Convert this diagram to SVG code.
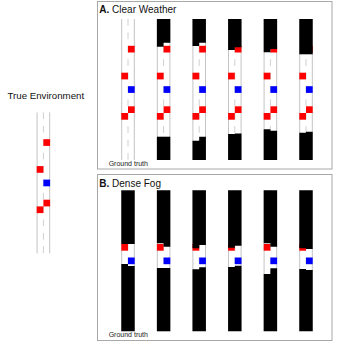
<svg xmlns="http://www.w3.org/2000/svg" xmlns:xlink="http://www.w3.org/1999/xlink" width="339" height="344" viewBox="0 0 339 344">
<style>
.edge{stroke:#c4c4c4;stroke-width:1;fill:none}
.mid{stroke:#d0d0d0;stroke-width:1;stroke-dasharray:6.7 6.7;fill:none}
.fog{fill:#000}
.car{fill:#ff0000}
.ego{fill:#0000ff}
.frame{fill:none;stroke:#a8a8a8;stroke-width:1}
.title{font-family:"Liberation Sans",Arial,sans-serif;font-size:10px;fill:#111}
.cap{font-family:"Liberation Sans",Arial,sans-serif;font-size:7px;fill:#222;text-anchor:middle}
</style>
<defs>
<g id="road">
<line class="edge" x1="0.4" y1="19" x2="0.4" y2="160"/>
<line class="edge" x1="13" y1="19" x2="13" y2="160"/>
<line class="mid" x1="6.7" y1="19" x2="6.7" y2="160"/>
</g>
<g id="cars">
<rect class="car" x="6.7" y="45.8" width="6.7" height="6.7"/>
<rect class="car" x="0" y="72.7" width="6.7" height="6.7"/>
<rect class="ego" x="6.7" y="86.2" width="6.7" height="6.7"/>
<rect class="car" x="6.7" y="106.3" width="6.7" height="6.7"/>
<rect class="car" x="0" y="113" width="6.7" height="6.7"/>
</g>
<g id="near">
<rect class="car" x="0" y="72.7" width="6.7" height="6.7"/>
<rect class="ego" x="6.7" y="86.2" width="6.7" height="6.7"/>
</g>
</defs>

<g id="true-environment">
<text class="title" x="45.8" y="99" style="font-size:9.7px;text-anchor:middle">True Environment</text>
<g transform="translate(36.7,93.4)">
<use xlink:href="#road"/>
<use xlink:href="#cars"/>
</g>
</g>

<g id="panel-a">
<rect class="frame" x="97.5" y="1.5" width="234.5" height="167.5"/>
<text class="title" x="99.3" y="13.3"><tspan font-weight="bold">A.</tspan> Clear Weather</text>
<g id="a1" transform="translate(121.3,0)">
<use xlink:href="#road"/><use xlink:href="#cars"/>
<text class="cap" x="7" y="166">Ground truth</text>
</g>
<g id="a2" transform="translate(156.9,0)">
<use xlink:href="#road"/><use xlink:href="#cars"/>
<polygon class="fog" points="0,19 13.4,19 13.4,42.7 6.7,42.7 6.7,46.7 0,46.7"/>
<polygon class="fog" points="0,136.7 13.4,136.7 13.4,160 0,160"/>
</g>
<g id="a3" transform="translate(192.5,0)">
<use xlink:href="#road"/><use xlink:href="#cars"/>
<polygon class="fog" points="0,19 13.4,19 13.4,42.7 6.7,42.7 6.7,46 0,46"/>
<polygon class="fog" points="0,140.7 6.7,140.7 6.7,136.7 13.4,136.7 13.4,160 0,160"/>
</g>
<g id="a4" transform="translate(228.1,0)">
<use xlink:href="#road"/><use xlink:href="#cars"/>
<polygon class="fog" points="0,19 13.4,19 13.4,47.3 6.7,47.3 6.7,50 0,50"/>
<polygon class="fog" points="0,134 6.7,134 6.7,133.4 13.4,133.4 13.4,160 0,160"/>
</g>
<g id="a5" transform="translate(263.7,0)">
<use xlink:href="#road"/><use xlink:href="#cars"/>
<polygon class="fog" points="0,19 13.4,19 13.4,49 6.7,49 6.7,52.3 0,52.3"/>
<polygon class="fog" points="0,129.3 6.7,129.3 6.7,130.7 13.4,130.7 13.4,160 0,160"/>
</g>
<g id="a6" transform="translate(299.3,0)">
<use xlink:href="#road"/><use xlink:href="#cars"/>
<polygon class="fog" points="0,19 13.4,19 13.4,54.3 0,54.3"/>
<polygon class="fog" points="0,132.7 6.7,132.7 6.7,131.7 13.4,131.7 13.4,160 0,160"/>
</g>
</g>

<g id="panel-b">
<rect class="frame" x="97.5" y="174.5" width="234.5" height="166"/>
<text class="title" x="99.3" y="186.5"><tspan font-weight="bold">B.</tspan> Dense Fog</text>
<g id="b1" transform="translate(121.3,171.3)">
<use xlink:href="#road"/><use xlink:href="#near"/>
<polygon class="fog" points="0,19 13.4,19 13.4,72.7 0,72.7"/>
<polygon class="fog" points="0,92.7 6.7,92.7 6.7,94.7 13.4,94.7 13.4,160 0,160"/>
<text class="cap" x="7" y="166">Ground truth</text>
</g>
<g id="b2" transform="translate(156.9,171.3)">
<use xlink:href="#road"/><use xlink:href="#near"/>
<polygon class="fog" points="0,19 13.4,19 13.4,75.4 6.7,75.4 6.7,72 0,72"/>
<polygon class="fog" points="0,96.7 13.4,96.7 13.4,160 0,160"/>
</g>
<g id="b3" transform="translate(192.5,171.3)">
<use xlink:href="#road"/><use xlink:href="#near"/>
<polygon class="fog" points="0,19 13.4,19 13.4,73.7 6.7,73.7 6.7,77 0,77"/>
<polygon class="fog" points="0,98 6.7,98 6.7,96 13.4,96 13.4,160 0,160"/>
</g>
<g id="b4" transform="translate(228.1,171.3)">
<use xlink:href="#road"/><use xlink:href="#near"/>
<polygon class="fog" points="0,19 13.4,19 13.4,74.4 6.7,74.4 6.7,76.4 0,76.4"/>
<polygon class="fog" points="0,95.7 6.7,95.7 6.7,94.4 13.4,94.4 13.4,160 0,160"/>
</g>
<g id="b5" transform="translate(263.7,171.3)">
<use xlink:href="#road"/><use xlink:href="#near"/>
<polygon class="fog" points="0,19 13.4,19 13.4,75.4 6.7,75.4 6.7,72 0,72"/>
<polygon class="fog" points="0,102.7 6.7,102.7 6.7,97 13.4,97 13.4,160 0,160"/>
</g>
<g id="b6" transform="translate(299.3,171.3)">
<use xlink:href="#road"/><use xlink:href="#near"/>
<polygon class="fog" points="0,19 13.4,19 13.4,77.7 6.7,77.7 6.7,77 0,77"/>
<polygon class="fog" points="0,97.7 6.7,97.7 6.7,98.7 13.4,98.7 13.4,160 0,160"/>
</g>
</g>
</svg>
